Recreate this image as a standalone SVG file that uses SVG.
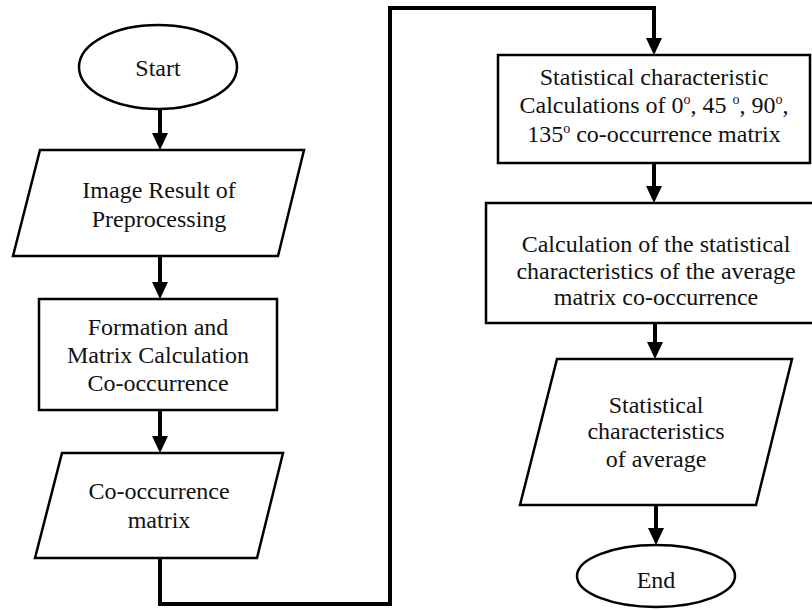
<svg xmlns="http://www.w3.org/2000/svg" width="812" height="610" viewBox="0 0 812 610">
<style>
.s{fill:#fff;stroke:#000;stroke-width:2.5}
.t{font-family:"Liberation Serif","Times New Roman",serif;font-size:24px;fill:#111;text-anchor:middle}
.c{fill:none;stroke:#000;stroke-width:4}
.sup{font-size:14px}
</style>
<defs>
<marker id="ah" viewBox="0 0 17 16" refX="0" refY="8" markerWidth="17" markerHeight="16" markerUnits="userSpaceOnUse" orient="auto">
<path d="M0,0 L17,8 L0,16 z" fill="#000"/>
</marker>
</defs>
<rect width="812" height="610" fill="#fff"/>
<g id="start">
<ellipse class="s" cx="158" cy="67" rx="79" ry="42"/>
<text class="t" x="158" y="76">Start</text>
</g>
<g id="input1">
<polygon class="s" points="40,150 304,150 278,256 13,256"/>
<text class="t" x="159" y="198">Image Result of</text>
<text class="t" x="159" y="227">Preprocessing</text>
</g>
<g id="formation">
<rect class="s" x="39" y="299" width="238" height="111"/>
<text class="t" x="158" y="335">Formation and</text>
<text class="t" x="158" y="363">Matrix Calculation</text>
<text class="t" x="158" y="391">Co-occurrence</text>
</g>
<g id="matrix">
<polygon class="s" points="62,453 283,453 257,558 35,558"/>
<text class="t" x="159" y="499">Co-occurrence</text>
<text class="t" x="159" y="528">matrix</text>
</g>
<g id="stat-calc">
<rect class="s" x="498" y="55" width="312" height="108"/>
<text class="t" x="654" y="85">Statistical characteristic</text>
<text class="t" x="654" y="113">Calculations of 0<tspan class="sup" dy="-9">o</tspan><tspan dy="9">, 45 </tspan><tspan class="sup" dy="-9">o</tspan><tspan dy="9">, 90</tspan><tspan class="sup" dy="-9">o</tspan><tspan dy="9">,</tspan></text>
<text class="t" x="654" y="142">135<tspan class="sup" dy="-9">o</tspan><tspan dy="9"> co-occurrence matrix</tspan></text>
</g>
<g id="avg-calc">
<rect class="s" x="486" y="203" width="330" height="120"/>
<text class="t" x="656" y="252">Calculation of the statistical</text>
<text class="t" x="656" y="279">characteristics of the average</text>
<text class="t" x="656" y="305">matrix co-occurrence</text>
</g>
<g id="output">
<polygon class="s" points="557,359 792,359 756,505 520,505"/>
<text class="t" x="656" y="413">Statistical</text>
<text class="t" x="656" y="439">characteristics</text>
<text class="t" x="656" y="467">of average</text>
</g>
<g id="end">
<ellipse class="s" cx="656" cy="576" rx="79" ry="31"/>
<text class="t" x="656" y="588">End</text>
</g>
<g id="connectors">
<path class="c" d="M160,110 V133" marker-end="url(#ah)"/>
<path class="c" d="M160,256 V282" marker-end="url(#ah)"/>
<path class="c" d="M160,410 V436" marker-end="url(#ah)"/>
<path class="c" d="M160,558 V604 H390 V8 H654 V38" marker-end="url(#ah)"/>
<path class="c" d="M654,163 V186" marker-end="url(#ah)"/>
<path class="c" d="M655,323 V342" marker-end="url(#ah)"/>
<path class="c" d="M656,505 V528" marker-end="url(#ah)"/>
</g>
</svg>
